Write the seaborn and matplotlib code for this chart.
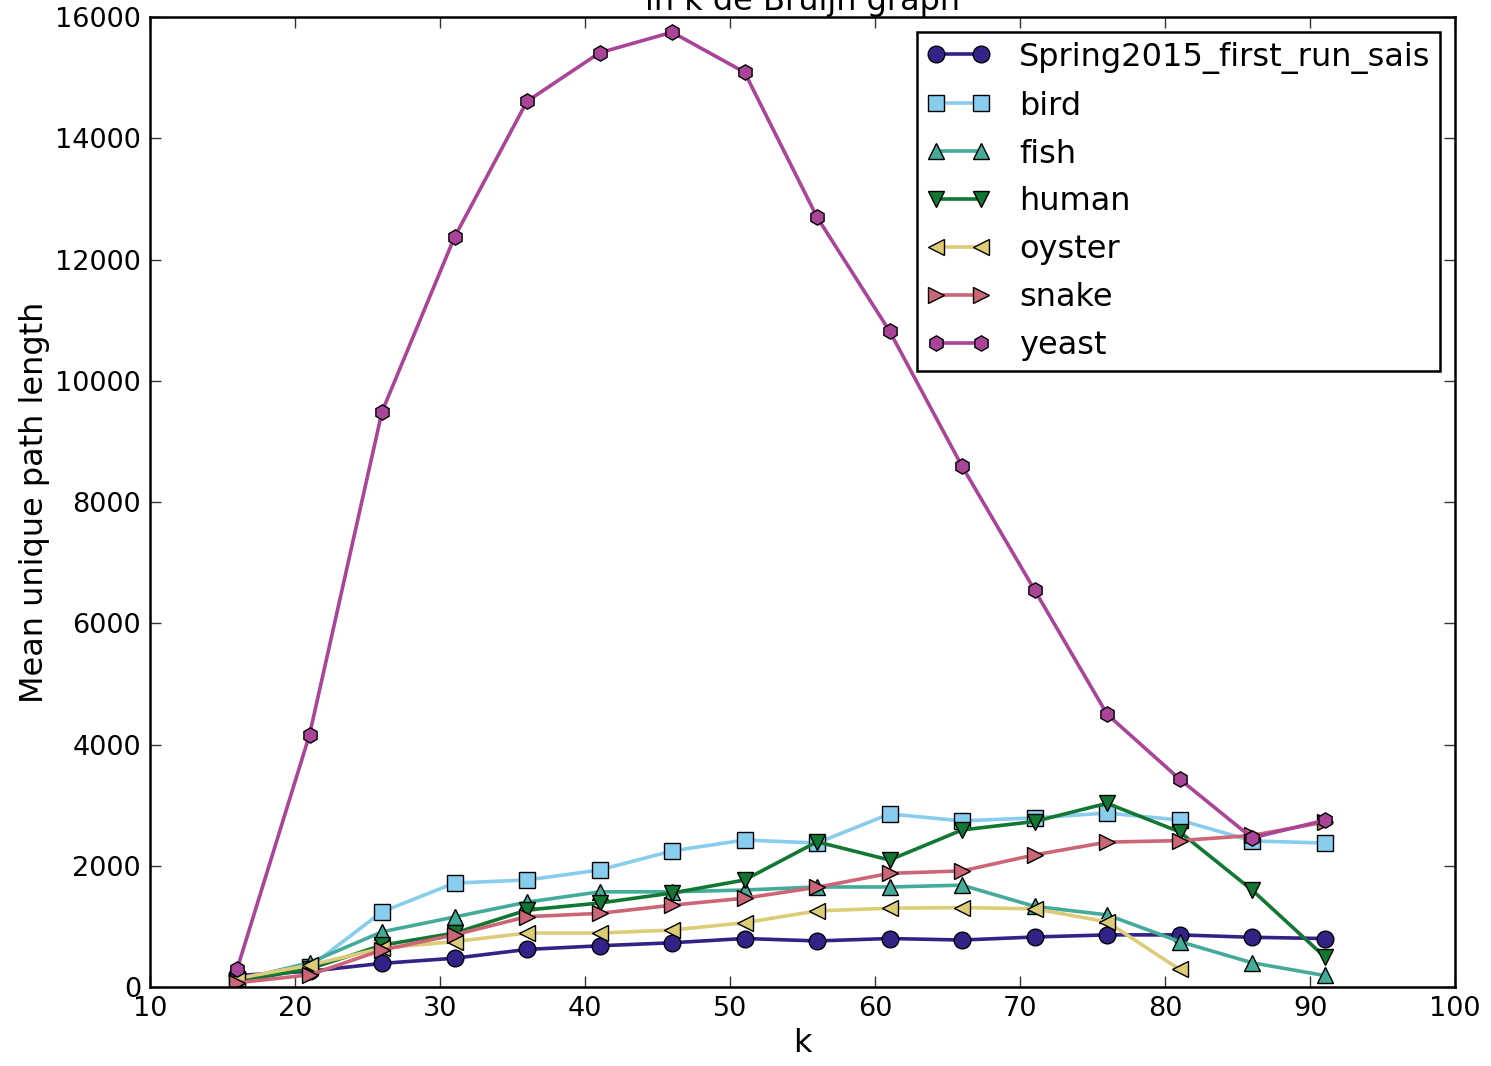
import matplotlib
matplotlib.use("Agg")
import matplotlib.pyplot as plt
import seaborn as sns
import pandas as pd

k = [16, 21, 26, 31, 36, 41, 46, 51, 56, 61, 66, 71, 76, 81, 86, 91]

spring = [190, 260, 390, 475, 620, 680, 730, 800, 760, 800, 775, 825, 860, 860, 820, 800]
bird = [110, 330, 1240, 1715, 1765, 1930, 2245, 2425, 2375, 2855, 2740, 2790, 2870, 2755, 2410, 2375]
fish = [110, 400, 910, 1155, 1400, 1570, 1570, 1600, 1650, 1650, 1680, 1330, 1190, 750, 400, 190]
human = [90, 300, 690, 890, 1270, 1385, 1550, 1765, 2395, 2095, 2590, 2730, 3030, 2560, 1600, 500]
oyster = [140, 360, 640, 750, 890, 890, 940, 1060, 1255, 1300, 1310, 1290, 1075, 290]
snake = [70, 200, 610, 860, 1160, 1215, 1350, 1465, 1645, 1875, 1915, 2180, 2390, 2415, 2500, 2720]
yeast = [290, 4160, 9490, 12370, 14610, 15410, 15750, 15090, 12700, 10820, 8590, 6550, 4500, 3430, 2460, 2750]

names = ["Spring2015_first_run_sais", "bird", "fish", "human", "oyster", "snake", "yeast"]
series = [spring, bird, fish, human, oyster, snake, yeast]
colors = ["#332288", "#88CCEE", "#44AA99", "#117733", "#DDCC77", "#CC6677", "#AA4499"]
markers = ["o", "s", "^", "v", "<", ">", "h"]

sns.set_style("ticks")
plt.rcParams["font.family"] = ["DejaVu Sans"]
plt.rcParams["text.color"] = "black"
plt.rcParams["axes.labelcolor"] = "black"
plt.rcParams["xtick.color"] = "black"
plt.rcParams["ytick.color"] = "black"
plt.rcParams["xtick.direction"] = "in"
plt.rcParams["ytick.direction"] = "in"

fig = plt.figure(figsize=(14.91, 10.66), dpi=100)
ax = fig.add_axes([0.1006, 0.0741, 0.8753, 0.9099])

for name, vals, c, m in zip(names, series, colors, markers):
    df = pd.DataFrame({"k": k[:len(vals)], "v": vals})
    sns.lineplot(data=df, x="k", y="v", ax=ax, color=c, marker=m,
                 markersize=12 if m != "h" else 11, markeredgecolor="black",
                 markeredgewidth=1.0, linewidth=2.6, label=name)

ax.set_xlim(10, 100)
ax.set_ylim(0, 16000)
ax.set_xticks(range(10, 101, 10))
ax.set_yticks(range(0, 16001, 2000))
ax.tick_params(axis="both", which="both", direction="in", top=True, right=True,
               labelsize=19.5, length=8, width=1, pad=6.5,
               color="#333333", labelcolor="black")
for s in ax.spines.values():
    s.set_linewidth(1.8)
    s.set_color("black")

ax.set_xlabel("k", fontsize=23, color="black")
ax.set_ylabel("Mean unique path length", fontsize=23, color="black")
ax.set_title("Mean unique path length\nin k de Bruijn graph", fontsize=23,
             pad=3, color="black")

leg = ax.legend(loc="upper right", numpoints=2, fontsize=23, handlelength=2.0,
                labelspacing=0.53, handletextpad=0.9, borderpad=0.3,
                borderaxespad=0.47, frameon=True, fancybox=False)
leg.get_frame().set_edgecolor("black")
leg.get_frame().set_linewidth(1.8)
leg.get_frame().set_alpha(1)
for t in leg.get_texts():
    t.set_color("black")

fig.savefig("out.png", dpi=100)
